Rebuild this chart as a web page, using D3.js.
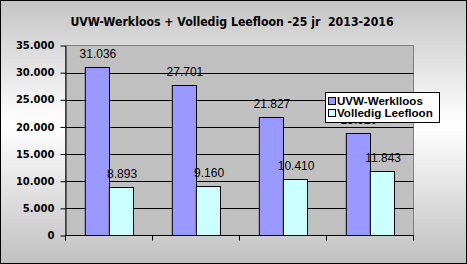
<!DOCTYPE html>
<meta charset="utf-8">
<style>
  body { margin: 0; }
  text { font-family: "Liberation Sans", Arial, sans-serif; }
</style>
<script src="https://d3js.org/d3.v7.min.js"></script>
<div id="chart"></div>
<script>

  // data
  var years = ["2013", "2014", "2015", "2016"]
  var seriesNames = ["UVW-Werklloos", "Volledig Leefloon"]
  var werkloos = [31036, 27701, 21827, 18920]
  var leefloon = [8893, 9160, 10410, 11843]
  var yTicks = [0, 5000, 10000, 15000, 20000, 25000, 30000, 35000]
  var colors = ["#9999ff", "#ccffff"]

  var width = 467, height = 264
  var plot = {left: 65.5, right: 413.5, top: 45.5, bottom: 235.5}

  var nl = d3.formatLocale({decimal: ",", thousands: ".", grouping: [3], currency: ["", "€"]})
  var fmt = nl.format(",d")

  var svg = d3.select("#chart").append("svg")
      .attr("width", width)
      .attr("height", height)

  var grad = svg.append("defs").append("linearGradient")
      .attr("id", "bg")
      .attr("x1", 0).attr("y1", 0).attr("x2", 0).attr("y2", 1)
  grad.append("stop").attr("offset", "0%").attr("stop-color", "#c4c4c4")
  grad.append("stop").attr("offset", "47%").attr("stop-color", "#ffffff")
  grad.append("stop").attr("offset", "100%").attr("stop-color", "#c0c0c0")

  // outer chart area
  svg.append("rect")
      .attr("x", 0.5).attr("y", 0.5)
      .attr("width", width - 1).attr("height", height - 1)
      .attr("fill", "url(#bg)")
      .attr("stroke", "black")

  svg.append("text")
      .attr("x", 232)
      .attr("y", 26)
      .attr("text-anchor", "middle")
      .style("white-space", "pre")
      .style("font-family", "'DejaVu Sans Condensed', 'DejaVu Sans', sans-serif")
      .style("font-weight", "bold")
      .style("font-size", "12.2px")
      .text("UVW-Werkloos + Volledig Leefloon -25 jr  2013-2016")

  var x0 = d3.scaleBand()
      .domain(years)
      .range([plot.left, plot.right])
      .paddingInner(0.444)
      .paddingOuter(0.222)

  var x1 = d3.scaleBand()
      .domain(seriesNames)
      .range([0, x0.bandwidth()])

  var y = d3.scaleLinear()
      .domain([0, 35000])
      .range([plot.bottom, plot.top])

  // plot area
  svg.append("rect")
      .attr("x", plot.left).attr("y", plot.top)
      .attr("width", plot.right - plot.left)
      .attr("height", plot.bottom - plot.top)
      .attr("fill", "#c0c0c0")
      .attr("stroke", "#808080")

  svg.selectAll(".grid")
      .data(yTicks.slice(1, -1))
      .enter().append("line")
      .attr("x1", plot.left).attr("x2", plot.right)
      .attr("y1", function(d) { return Math.round(y(d)) + 0.5 })
      .attr("y2", function(d) { return Math.round(y(d)) + 0.5 })
      .attr("stroke", "black")

  var rows = years.map(function(yr, i) {
    return [{key: seriesNames[0], value: werkloos[i]}, {key: seriesNames[1], value: leefloon[i]}]
  })

  var groups = svg.selectAll(".year")
      .data(rows)
      .enter().append("g")
      .attr("transform", function(d, i) { return "translate(" + x0(years[i]) + ",0)" })

  groups.selectAll("rect")
      .data(function(d) { return d })
      .enter().append("rect")
      .attr("x", function(d) { return Math.round(x1(d.key)) + 0.5 })
      .attr("y", function(d) { return Math.round(y(d.value)) + 0.5 })
      .attr("width", x1.bandwidth())
      .attr("height", function(d) { return Math.round(plot.bottom - 0.5) - Math.round(y(d.value)) })
      .attr("fill", function(d, i) { return colors[i] })
      .attr("stroke", "black")

  // last blue label sits under the legend, as in the original
  groups.selectAll(".lbl")
      .data(function(d) { return d })
      .enter().append("text")
      .attr("x", function(d) { return x1(d.key) + x1.bandwidth() / 2 + 1 })
      .attr("y", function(d) { return y(d.value) - 9 })
      .attr("text-anchor", "middle")
      .style("font-size", "12px")
      .text(function(d) { return fmt(d.value) })

  // axes
  var yAxis = svg.append("g")
      .attr("transform", "translate(" + plot.left + ",0)")
      .call(d3.axisLeft(y).tickValues(yTicks).tickSize(5).tickSizeOuter(0).tickPadding(6).tickFormat(fmt))
  yAxis.selectAll("line, path").attr("stroke", "black")
  yAxis.selectAll("text")
      .style("font-family", "'DejaVu Sans', sans-serif")
      .style("font-weight", "bold")
      .style("font-size", "10px")
      .attr("fill", "black")

  var edges = years.map(function(d) { return x0(d) - x0.step() * 0.222 }).concat([plot.right])
  svg.append("line")
      .attr("x1", plot.left).attr("x2", plot.right)
      .attr("y1", plot.bottom).attr("y2", plot.bottom)
      .attr("stroke", "black")
  svg.selectAll(".xtick")
      .data(edges)
      .enter().append("line")
      .attr("x1", function(d) { return Math.round(d - 0.5) + 0.5 })
      .attr("x2", function(d) { return Math.round(d - 0.5) + 0.5 })
      .attr("y1", plot.bottom).attr("y2", plot.bottom + 5)
      .attr("stroke", "black")

  // legend
  var legend = svg.append("g").attr("transform", "translate(325.5,92.5)")
  legend.append("rect")
      .attr("width", 114).attr("height", 30)
      .attr("fill", "white")
      .attr("stroke", "black")
  var items = legend.selectAll(".item")
      .data(seriesNames)
      .enter().append("g")
      .attr("transform", function(d, i) { return "translate(3," + (4 + i * 12) + ")" })
  items.append("rect")
      .attr("width", 7).attr("height", 7)
      .attr("y", 1)
      .attr("fill", function(d, i) { return colors[i] })
      .attr("stroke", "black")
  items.append("text")
      .attr("x", 8.5)
      .attr("y", 8.5)
      .style("font-weight", "bold")
      .style("font-size", "11.6px")
      .text(function(d) { return d })

</script>
